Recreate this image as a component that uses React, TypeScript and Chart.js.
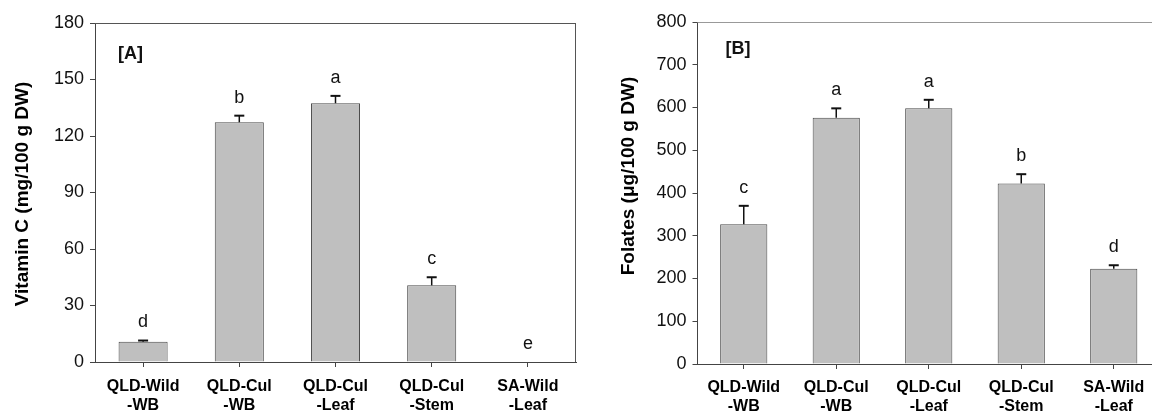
import React, { useEffect, useRef } from 'react';
import { Chart, registerables } from 'chart.js';

Chart.register(...registerables);

// ---- data ----
const categories: string[][] = [
  ['QLD-Wild', '-WB'],
  ['QLD-Cul', '-WB'],
  ['QLD-Cul', '-Leaf'],
  ['QLD-Cul', '-Stem'],
  ['SA-Wild', '-Leaf'],
];

const vitaminC = [10.8, 127.3, 137.4, 40.7, 0];
const vitaminCErr = [0.6, 3.5, 3.9, 4.3, 0];
const vitaminCLetters = ['d', 'b', 'a', 'c', 'e'];
const vitaminCTicks = { min: 0, max: 180, step: 30 };

const folates = [327, 576, 598, 422, 223];
const folatesErr = [43, 22, 20, 22, 8];
const folatesLetters = ['c', 'a', 'a', 'b', 'd'];
const folatesTicks = { min: 0, max: 800, step: 100 };

const FONT = "'Liberation Sans', Arial, Helvetica, sans-serif";

type PanelCfg = {
  values: number[];
  errs: number[];
  letters: string[];
  panel: string;
  title: string;
  ticks: { min: number; max: number; step: number };
  yWidth: number;
  xHeight: number;
  padTop: number;
  padRight: number;
  titleX: number;
  titleY: number;
  labelPad: number;
  frameColor: string;
  panelDx: number;
  panelDy: number;
};

function makePlugin(cfg: PanelCfg) {
  return {
    id: 'extras',
    afterDatasetsDraw(chart: any) {
      const ctx = chart.ctx as CanvasRenderingContext2D;
      const ca = chart.chartArea;
      const ys = chart.scales.y;
      const meta = chart.getDatasetMeta(0);
      ctx.save();
      // frame top + right
      ctx.strokeStyle = cfg.frameColor;
      ctx.lineWidth = 1;
      ctx.beginPath();
      ctx.moveTo(ca.left, Math.round(ca.top) + 0.5);
      ctx.lineTo(ca.right, Math.round(ca.top) + 0.5);
      ctx.moveTo(Math.round(ca.right) - 0.5, ca.top);
      ctx.lineTo(Math.round(ca.right) - 0.5, ca.bottom);
      ctx.stroke();
      // error bars
      ctx.strokeStyle = '#111';
      cfg.values.forEach((v, i) => {
        const el = meta.data[i];
        if (!el) return;
        const x = el.x;
        const e = cfg.errs[i];
        const yv = ys.getPixelForValue(v);
        const yt = ys.getPixelForValue(v + e);
        if (e > 0) {
          ctx.lineWidth = 1.5;
          ctx.beginPath();
          ctx.moveTo(x, yv);
          ctx.lineTo(x, yt);
          ctx.stroke();
          ctx.lineWidth = 2;
          ctx.beginPath();
          ctx.moveTo(x - 5, yt);
          ctx.lineTo(x + 5, yt);
          ctx.stroke();
        }
        // letter
        ctx.fillStyle = '#111';
        ctx.font = `18px ${FONT}`;
        ctx.textAlign = 'center';
        ctx.textBaseline = 'middle';
        ctx.fillText(cfg.letters[i], x, yt - 18);
      });
      // panel label
      ctx.fillStyle = '#111';
      ctx.font = `bold 18px ${FONT}`;
      ctx.textAlign = 'left';
      ctx.textBaseline = 'middle';
      ctx.fillText(cfg.panel, ca.left + cfg.panelDx, ca.top + cfg.panelDy);
      // y axis title
      ctx.save();
      ctx.translate(cfg.titleX, cfg.titleY);
      ctx.rotate(-Math.PI / 2);
      ctx.fillStyle = '#000';
      ctx.font = `bold 19px ${FONT}`;
      ctx.textAlign = 'center';
      ctx.textBaseline = 'middle';
      ctx.fillText(cfg.title, 0, 0);
      ctx.restore();
      ctx.restore();
    },
  };
}

function Panel(props: { cfg: PanelCfg; left: number; width: number }) {
  const ref = useRef<HTMLCanvasElement | null>(null);
  useEffect(() => {
    const cfg = props.cfg;
    const chart = new Chart(ref.current as HTMLCanvasElement, {
      type: 'bar',
      data: {
        labels: categories,
        datasets: [
          {
            data: cfg.values,
            backgroundColor: '#bfbfbf',
            borderColor: '#4a4a4a',
            borderWidth: 1,
            barPercentage: 0.51,
            categoryPercentage: 1,
          },
        ],
      },
      options: {
        responsive: false,
        animation: false,
        events: [],
        layout: { padding: { top: cfg.padTop, right: cfg.padRight, left: 0, bottom: 0 } },
        plugins: { legend: { display: false }, tooltip: { enabled: false } },
        scales: {
          x: {
            ticks: {
              font: { family: FONT, size: 16, weight: 'bold', lineHeight: 1.2 },
              color: '#000',
              padding: cfg.labelPad,
              maxRotation: 0,
              autoSkip: false,
            },
            grid: { drawOnChartArea: false, drawTicks: true, tickLength: 5, color: '#444', offset: false },
            border: { display: true, color: '#444', width: 1 },
            afterFit: (s: any) => {
              s.height = cfg.xHeight;
            },
          },
          y: {
            min: cfg.ticks.min,
            max: cfg.ticks.max,
            ticks: { stepSize: cfg.ticks.step, font: { family: FONT, size: 18 }, color: '#111', padding: 6 },
            grid: { drawOnChartArea: false, drawTicks: true, tickLength: 5, color: '#444' },
            border: { display: true, color: '#444', width: 1 },
            title: { display: false },
            afterFit: (s: any) => {
              s.width = cfg.yWidth;
            },
          },
        },
      } as any,
      plugins: [makePlugin(cfg)],
    });
    return () => chart.destroy();
  }, []);
  return (
    <canvas
      ref={ref}
      width={props.width}
      height={412}
      style={{ position: 'absolute', left: props.left, top: 0, width: props.width, height: 412 }}
    />
  );
}

const panelA: PanelCfg = {
  values: vitaminC,
  errs: vitaminCErr,
  letters: vitaminCLetters,
  panel: '[A]',
  title: 'Vitamin C (mg/100 g DW)',
  ticks: vitaminCTicks,
  yWidth: 95,
  xHeight: 50,
  padTop: 23,
  padRight: 14,
  titleX: 23,
  titleY: 194,
  labelPad: 10,
  frameColor: '#555',
  panelDx: 23,
  panelDy: 31,
};

const panelB: PanelCfg = {
  values: folates,
  errs: folatesErr,
  letters: folatesLetters,
  panel: '[B]',
  title: 'Folates (\u03bcg/100 g DW)',
  ticks: folatesTicks,
  yWidth: 97.5,
  xHeight: 48,
  padTop: 22,
  padRight: 20,
  titleX: 29,
  titleY: 176,
  labelPad: 9,
  frameColor: '#999',
  panelDx: 28,
  panelDy: 27,
};

export default function App() {
  return (
    <div
      style={{
        position: 'fixed',
        left: 0,
        top: 0,
        width: 1152,
        height: 412,
        overflow: 'hidden',
        background: '#fff',
      }}
    >
      <Panel cfg={panelA} left={0} width={590} />
      <Panel cfg={panelB} left={600} width={580} />
    </div>
  );
}
